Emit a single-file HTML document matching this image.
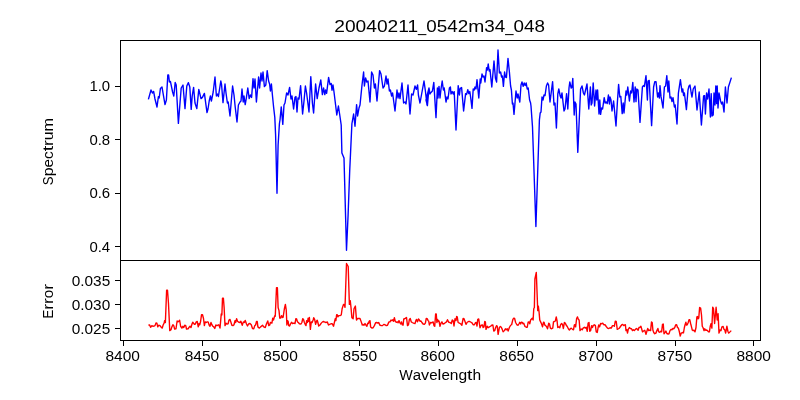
<!DOCTYPE html>
<html><head><meta charset="utf-8"><title>20040211_0542m34_048</title>
<style>html,body{margin:0;padding:0;background:#fff;}svg{display:block;}text{font-family:"Liberation Sans",sans-serif;fill:#000;}</style></head><body>
<svg width="800" height="400" viewBox="0 0 800 400" style="will-change:transform">
<rect x="0" y="0" width="800" height="400" fill="#fff"/>
<clipPath id="ct"><rect x="120.5" y="40.5" width="640" height="220"/></clipPath>
<clipPath id="cb"><rect x="120.5" y="260.5" width="640" height="80"/></clipPath>
<polyline clip-path="url(#ct)" fill="none" stroke="#0000ff" stroke-width="1.39" stroke-linejoin="round" stroke-linecap="butt" points="148.40,99.40 151.00,90.00 152.40,93.00 153.60,91.40 155.00,99.00 157.00,107.00 158.40,96.60 159.20,98.00 160.40,88.60 162.00,87.00 165.00,104.60 166.40,100.00 167.80,75.00 168.60,75.00 169.40,82.00 170.40,81.40 172.60,92.00 173.80,96.00 175.20,82.40 176.20,85.00 178.40,123.40 181.20,88.00 183.00,85.00 185.00,108.60 186.80,86.00 188.40,82.60 189.80,87.00 191.20,109.40 192.20,96.00 193.60,87.40 195.00,103.00 196.80,108.60 198.80,89.40 201.00,98.60 202.40,97.40 204.40,93.40 207.00,112.60 208.00,109.00 209.20,101.00 210.40,96.00 211.40,101.00 213.20,92.00 215.00,77.00 216.40,96.00 217.60,94.00 218.40,96.60 220.80,81.00 221.60,85.00 223.00,102.60 225.00,84.00 226.00,93.00 227.40,103.00 228.20,102.00 230.00,116.00 232.60,86.00 234.00,95.00 235.20,107.00 237.00,122.00 238.40,105.00 240.00,102.00 241.00,101.00 242.00,89.00 243.20,102.00 244.00,96.00 245.20,104.60 246.20,99.00 247.80,88.00 249.20,98.60 250.40,95.00 251.60,97.40 253.00,78.60 254.00,88.00 255.00,79.00 256.40,102.00 258.60,77.00 259.60,88.00 261.00,73.00 262.00,81.00 263.00,72.00 264.40,86.60 265.80,85.00 267.20,70.60 268.60,81.00 269.60,84.00 270.40,91.00 271.40,84.00 272.40,95.00 273.60,107.00 274.80,117.40 275.60,135.00 277.00,193.20 278.10,145.00 279.40,123.75 280.00,120.00 281.25,106.90 282.80,124.40 284.00,105.00 285.00,103.00 286.60,93.00 288.00,95.00 289.60,87.40 291.00,99.00 292.00,96.00 293.60,109.00 295.00,97.40 296.00,96.60 297.00,112.00 298.00,98.00 299.00,99.00 300.60,85.60 302.60,114.00 304.00,101.00 305.40,86.00 306.60,93.00 309.00,112.00 310.80,76.60 312.40,103.00 313.60,113.00 315.60,84.00 317.20,98.60 319.00,88.00 320.80,80.00 322.40,94.60 323.60,88.00 324.80,94.60 325.60,90.00 326.60,93.40 328.60,77.40 330.00,84.60 331.20,83.40 332.00,90.20 333.00,85.00 334.00,92.00 335.60,105.00 336.80,115.00 338.40,106.00 339.60,114.00 341.20,125.00 341.90,153.00 344.00,158.00 345.00,195.00 346.50,250.30 348.10,215.00 349.70,171.00 351.90,123.75 353.60,114.00 355.00,126.20 356.60,104.60 357.60,116.00 359.00,108.00 360.00,105.00 362.00,85.00 363.60,72.00 364.40,86.00 365.60,78.00 366.80,82.00 368.00,81.00 370.00,102.00 371.60,72.00 373.00,75.00 374.40,88.00 375.40,84.00 377.00,101.00 379.60,70.60 381.00,74.00 383.00,88.00 384.40,86.00 386.00,76.00 387.00,84.00 388.00,79.00 389.40,91.00 390.40,90.00 391.60,96.00 392.60,93.00 395.00,111.00 397.00,90.00 398.00,98.00 399.00,93.00 400.00,98.60 402.00,83.00 403.60,103.00 405.00,102.00 406.00,104.00 408.00,85.00 410.00,114.00 411.60,94.00 413.00,95.00 415.00,86.00 416.40,89.40 417.60,85.00 418.40,95.00 420.00,103.00 422.00,92.00 424.00,81.00 425.40,91.00 427.00,105.00 429.00,88.00 426.00,100.00 427.40,105.60 429.00,88.00 430.00,94.00 431.00,92.40 432.40,91.00 433.80,82.40 436.00,117.60 437.40,88.00 438.00,98.00 439.00,86.40 440.00,98.00 441.00,89.00 442.20,81.00 443.40,90.00 444.20,88.00 446.00,102.00 447.00,97.00 448.00,99.00 449.40,88.00 450.40,87.00 451.00,94.00 452.20,91.60 453.20,94.00 454.20,91.60 456.00,130.00 458.20,85.60 459.40,95.00 460.20,88.40 461.60,87.60 463.60,111.00 465.60,93.60 466.60,94.40 467.80,89.60 468.80,93.60 469.80,91.60 470.60,97.00 472.00,108.40 473.20,89.00 474.20,90.00 475.00,87.00 476.00,89.00 477.00,79.60 478.80,98.00 480.20,79.00 480.80,83.00 482.00,74.00 483.00,77.00 484.00,76.00 485.00,82.00 486.60,67.60 487.40,70.00 488.20,64.00 489.20,71.00 490.00,69.60 491.80,87.00 494.00,61.00 495.40,78.00 496.60,82.00 498.00,50.00 499.40,73.00 500.60,72.00 501.60,77.00 502.40,76.00 503.40,86.40 504.60,72.00 505.40,77.00 506.40,77.60 508.00,58.40 509.40,72.00 510.60,86.00 511.40,90.00 512.40,104.00 513.00,103.00 514.00,114.40 516.00,91.00 517.20,98.00 518.00,94.00 519.80,102.00 521.00,85.00 522.00,82.00 523.20,86.40 524.20,83.00 525.20,85.60 526.20,83.00 527.20,89.00 528.20,88.00 529.60,100.00 530.60,103.00 531.00,106.00 532.50,127.00 535.90,226.50 539.40,120.00 540.20,113.00 541.00,112.00 542.00,97.00 543.00,100.00 544.00,95.00 545.00,95.60 546.40,86.00 547.60,83.00 548.60,85.00 550.00,102.00 551.40,91.00 552.60,81.60 554.00,105.00 555.00,103.00 556.40,128.00 557.80,94.00 558.80,89.00 560.20,96.00 561.00,98.00 562.00,93.00 564.00,111.00 565.00,109.00 566.60,93.60 567.80,109.00 569.00,88.00 569.80,82.00 571.20,88.00 572.00,87.00 572.80,78.40 574.20,115.00 575.00,102.00 576.00,104.00 577.80,152.40 580.60,89.00 582.00,86.00 583.40,93.00 584.40,95.00 585.60,90.00 587.00,84.00 588.80,109.00 590.40,87.00 591.20,105.00 592.00,103.00 593.20,83.00 594.60,106.00 596.00,90.00 596.80,100.00 597.60,90.00 599.00,114.00 599.80,100.00 600.60,114.40 601.60,108.00 602.60,109.00 604.20,97.60 605.20,103.00 606.20,102.00 607.20,103.60 608.40,95.00 609.40,104.00 610.00,97.00 611.00,100.00 612.00,111.00 613.60,101.00 616.00,126.00 617.40,102.00 618.60,84.40 619.80,97.00 620.80,96.40 622.20,113.60 623.20,103.00 624.00,113.00 626.00,91.00 626.80,95.00 627.80,87.00 629.40,101.00 630.60,91.00 631.60,93.00 632.80,82.40 634.00,102.00 635.20,87.00 636.00,101.60 636.80,89.00 638.00,90.00 640.00,122.40 642.40,87.00 643.40,85.60 644.40,86.40 646.00,75.60 647.40,100.00 648.00,81.00 649.20,80.40 651.60,125.60 653.60,87.00 654.80,81.60 656.00,81.60 657.60,97.00 658.40,93.00 659.40,98.00 660.00,85.60 661.00,96.40 663.00,108.00 664.40,87.00 665.60,86.00 666.80,75.60 668.00,92.00 668.80,81.00 670.00,98.00 671.00,97.00 672.00,101.60 673.00,97.60 674.40,107.00 675.20,105.00 677.00,124.00 678.40,93.00 680.40,79.60 682.00,92.00 682.80,89.00 683.60,95.60 684.40,93.00 686.40,109.60 688.00,90.00 689.00,86.00 690.00,85.00 691.20,93.00 692.00,97.00 693.20,89.00 695.00,86.00 697.00,110.00 699.20,92.00 701.40,125.00 703.60,96.00 704.60,95.60 705.40,114.00 706.60,93.00 707.60,99.00 709.00,89.00 710.40,117.00 711.20,93.60 712.00,116.00 713.20,115.00 714.00,93.00 715.00,105.00 715.80,86.00 716.60,103.60 717.20,86.00 718.00,108.00 719.00,93.00 720.60,101.00 721.60,104.00 722.60,102.00 724.00,112.00 725.40,87.00 727.00,103.00 728.40,87.00 731.40,77.60"/>
<polyline clip-path="url(#cb)" fill="none" stroke="#ff0000" stroke-width="1.39" stroke-linejoin="round" stroke-linecap="butt" points="148.50,324.75 149.75,325.25 150.62,327.25 151.88,325.62 152.88,326.25 154.00,326.00 155.00,325.62 156.00,322.88 156.88,323.12 157.75,326.88 158.75,325.25 160.00,325.62 161.25,327.25 162.25,328.12 163.12,325.00 164.12,323.12 164.62,320.62 165.38,322.50 166.62,290.25 167.50,290.25 168.50,303.75 169.75,330.62 171.00,329.75 171.88,326.88 172.88,324.75 173.75,325.62 174.62,329.00 176.00,328.75 177.12,321.00 178.12,321.88 178.75,321.25 179.62,320.25 180.62,326.25 181.88,328.12 182.88,326.25 183.75,327.50 184.75,325.25 185.75,325.62 186.50,329.00 188.12,328.75 189.38,326.88 190.00,326.25 191.00,327.50 191.88,324.38 192.75,322.25 193.50,323.12 194.38,324.38 195.38,324.00 196.25,321.88 197.25,321.50 198.25,326.88 199.00,323.75 199.75,324.75 200.62,321.25 201.50,314.75 202.50,314.75 203.50,318.50 204.38,325.62 205.25,321.88 206.25,322.50 207.12,321.88 208.12,321.88 209.12,325.00 210.00,326.25 211.00,322.50 211.88,324.75 212.88,326.25 213.75,326.88 214.75,328.50 215.88,325.00 216.88,325.62 217.75,325.25 218.75,324.75 220.00,328.12 221.25,314.00 221.88,315.00 222.50,298.12 223.38,298.12 224.12,307.50 225.00,325.62 226.00,323.12 226.88,324.00 228.12,323.75 229.00,320.00 230.00,319.38 231.00,322.50 231.88,325.25 233.12,325.62 234.00,324.75 235.00,320.62 235.62,322.50 236.62,318.75 237.50,321.25 238.75,322.25 240.00,322.50 240.88,321.25 242.25,325.25 243.38,321.88 244.38,322.50 245.25,320.38 246.50,324.00 247.50,326.00 248.75,323.75 250.00,323.50 251.25,324.75 252.50,328.50 253.75,328.75 254.75,325.62 255.62,325.00 256.50,321.50 257.25,321.50 257.88,326.88 259.38,328.12 260.62,326.88 261.62,326.00 262.50,325.25 263.75,326.88 265.25,327.50 266.50,323.75 267.75,321.00 268.75,325.62 269.75,325.00 270.38,322.50 271.88,323.12 272.75,318.12 273.50,320.00 274.75,315.62 275.25,316.25 276.50,287.75 277.38,287.75 278.12,307.50 279.00,310.62 279.75,318.12 280.62,318.12 281.62,315.62 282.50,317.50 283.12,317.25 284.38,308.75 285.38,304.38 286.25,310.00 286.88,325.00 287.50,320.62 288.12,321.25 288.75,325.62 289.62,326.00 290.62,323.75 291.50,322.25 292.50,323.50 293.75,323.12 295.00,323.50 295.88,318.75 296.62,319.00 297.50,321.88 298.38,322.50 299.38,323.75 301.00,324.00 301.88,322.50 302.75,318.75 303.50,319.38 304.38,322.50 305.38,324.75 306.00,325.62 306.62,320.62 307.50,322.50 308.12,318.12 308.75,321.25 309.38,317.50 310.38,329.38 311.25,321.88 312.12,322.50 313.12,320.00 313.75,317.75 314.62,319.38 315.62,324.38 316.50,321.25 317.25,320.25 317.88,322.50 318.75,326.00 320.00,325.00 321.25,323.12 322.50,321.88 323.75,321.50 325.00,322.25 326.25,322.50 327.25,321.88 328.50,325.00 329.75,324.38 331.00,323.75 332.25,323.75 333.50,326.25 335.25,318.75 335.88,320.62 336.62,314.75 337.25,314.75 337.88,316.88 338.75,315.62 340.00,315.62 341.25,315.00 342.12,308.75 343.50,304.38 344.38,304.75 345.00,307.25 346.50,263.50 348.20,266.50 349.38,304.38 350.25,300.62 351.00,307.50 351.88,317.75 353.12,318.75 354.00,308.75 355.38,306.00 356.50,320.00 357.50,318.50 360.00,318.50 361.25,321.88 362.25,325.00 363.12,324.38 364.00,325.25 365.00,323.50 366.00,325.25 366.88,326.25 367.75,323.12 368.50,323.50 369.12,321.25 370.00,320.62 370.62,326.88 371.88,328.12 373.12,327.75 374.38,325.62 375.62,322.75 376.88,322.50 377.75,323.12 378.75,322.50 379.75,325.00 381.25,325.62 382.50,325.62 383.75,324.38 385.00,324.75 386.25,325.62 387.50,325.25 388.38,323.12 389.00,321.88 390.00,321.88 391.00,320.00 391.88,320.62 392.88,319.75 393.50,321.25 394.38,317.75 395.25,321.25 396.25,322.25 397.50,321.88 398.12,322.75 399.00,320.62 399.75,322.50 400.62,324.00 401.50,321.88 402.25,324.75 403.12,325.00 403.75,319.00 404.75,318.75 405.62,318.12 406.50,317.50 407.50,325.62 408.50,324.75 409.38,319.38 410.25,318.50 411.25,321.88 412.25,322.50 413.50,323.12 415.00,323.50 416.00,320.25 416.62,319.38 417.50,321.88 418.50,319.00 419.38,320.00 420.00,321.25 421.00,321.00 421.88,322.50 423.12,324.00 424.38,324.38 425.38,323.12 426.25,318.50 427.25,318.75 428.12,320.62 428.75,321.25 429.38,325.00 430.62,322.50 431.88,322.75 433.12,321.88 434.00,325.62 434.75,326.25 435.62,314.00 436.25,314.00 436.88,322.50 437.50,319.38 438.25,321.25 439.00,321.00 440.00,326.25 441.00,323.12 441.88,321.88 442.88,324.00 444.00,323.75 445.25,322.75 446.50,321.88 447.50,319.75 448.75,322.25 450.00,322.50 451.25,323.50 452.25,320.00 453.12,320.62 454.00,326.00 455.00,318.75 456.00,320.62 456.62,316.50 457.25,316.88 458.12,322.50 459.38,323.12 460.62,323.75 461.88,325.25 463.12,318.50 464.00,318.75 465.00,321.50 466.00,324.38 467.25,322.25 468.50,321.50 469.75,321.50 471.00,322.25 472.25,323.12 473.12,324.75 474.38,324.75 475.38,322.75 476.25,322.50 477.00,326.00 477.75,319.38 478.75,319.00 480.00,327.75 481.25,325.25 482.50,325.00 483.12,327.50 484.00,326.88 484.75,321.50 485.38,321.88 486.00,329.38 487.25,326.25 488.12,327.75 489.38,326.88 490.62,326.25 491.62,325.25 492.88,325.00 493.75,331.00 494.75,330.62 495.62,327.50 496.62,325.62 497.25,326.25 498.12,334.38 499.38,327.50 500.38,326.50 501.25,327.25 502.25,329.38 503.12,331.88 504.38,330.62 505.38,328.75 506.25,329.75 507.25,328.75 508.12,331.00 509.38,327.50 510.62,325.25 511.62,324.75 512.88,319.38 513.75,318.12 514.62,318.50 515.62,322.50 516.88,324.75 518.12,325.25 519.00,323.75 519.75,322.25 520.62,324.00 521.25,322.25 522.25,322.50 523.12,323.75 523.75,323.12 524.62,325.62 525.00,326.50 526.25,327.25 527.25,327.25 528.12,322.25 529.00,321.88 529.75,323.75 530.62,320.00 531.50,319.00 532.25,318.12 533.12,320.00 533.75,308.75 534.38,307.50 534.90,279.00 536.30,272.50 537.75,310.62 538.38,306.25 539.00,311.25 539.75,320.00 540.62,321.88 541.50,323.75 542.50,326.88 543.50,322.25 544.12,322.50 544.75,325.00 545.62,325.62 546.50,326.50 547.50,328.75 548.75,323.12 549.50,324.00 550.38,328.12 551.25,328.75 552.75,328.12 553.50,321.88 554.38,321.50 555.38,321.00 556.25,316.88 557.12,321.25 557.75,327.50 558.75,326.88 559.75,327.75 560.62,324.75 561.62,323.50 562.50,324.38 563.38,328.50 564.38,322.50 565.25,323.12 566.25,325.25 567.25,326.50 568.50,329.00 569.38,330.00 570.38,328.75 571.25,328.12 572.50,329.38 573.50,329.75 574.38,325.00 575.00,324.75 575.62,326.88 576.62,318.50 577.50,316.88 578.38,319.38 579.12,320.00 580.00,330.62 581.25,329.00 582.25,329.75 583.12,328.12 584.38,327.25 585.25,328.12 586.25,327.25 587.25,331.25 588.12,323.12 589.00,322.50 589.75,331.25 590.62,330.62 591.62,325.62 592.50,327.50 593.38,325.25 594.38,324.75 595.38,325.62 596.25,331.88 597.25,332.50 598.12,327.50 598.75,325.00 599.62,326.88 600.62,323.50 601.88,323.75 602.75,323.12 603.75,324.75 605.00,324.75 606.25,326.50 607.50,328.12 608.75,328.50 610.00,327.75 611.25,328.12 612.50,325.62 613.50,325.62 614.38,326.25 615.25,321.25 616.25,321.50 617.25,329.38 618.50,328.75 619.38,328.12 620.62,326.25 621.88,324.75 622.75,324.38 623.75,325.62 624.62,325.00 625.38,324.75 626.00,330.62 626.88,329.75 627.50,333.12 628.25,329.38 629.38,327.50 630.38,328.50 631.50,328.75 632.50,330.62 633.50,329.75 634.38,330.62 635.38,329.38 636.50,328.50 637.50,329.38 638.12,330.25 639.00,327.50 640.00,327.25 640.88,326.25 641.62,328.75 642.50,331.88 643.50,331.00 644.75,330.25 646.00,334.38 646.88,331.25 647.75,328.50 648.75,330.62 649.75,330.00 650.62,330.62 651.50,321.88 652.25,322.75 652.88,330.00 653.75,332.50 654.75,333.75 655.88,333.12 656.88,330.62 657.88,328.50 658.75,331.88 659.75,332.25 660.75,331.25 661.62,331.88 662.50,324.38 663.25,324.00 664.00,333.75 665.00,332.50 665.88,331.00 666.88,333.50 668.12,334.00 669.00,333.75 670.00,330.62 671.00,329.38 671.88,329.75 672.88,328.50 673.75,328.75 674.75,327.50 675.62,325.00 676.62,324.75 677.50,327.50 678.38,328.12 679.25,331.25 680.25,336.00 681.25,333.12 682.50,332.50 683.50,332.75 684.38,327.50 685.00,325.00 685.88,322.25 686.50,325.00 687.25,324.75 688.12,322.75 689.00,319.75 689.75,319.75 690.62,323.50 691.50,326.88 692.25,330.00 693.12,330.62 694.00,330.25 695.00,331.88 696.00,327.50 696.88,316.88 697.50,316.50 698.12,318.75 698.75,318.12 699.62,307.50 700.62,308.12 701.50,315.00 702.25,326.25 703.12,327.75 704.00,330.62 704.75,328.75 705.62,330.25 706.62,330.00 707.50,330.62 708.50,331.88 709.38,331.88 710.25,326.25 711.00,323.75 711.88,328.12 712.70,307.20 713.50,308.50 714.60,323.50 716.10,307.20 717.20,320.00 718.10,313.80 719.00,333.12 720.00,330.00 721.00,330.62 721.88,326.88 723.12,326.50 724.00,329.38 724.75,329.75 725.62,333.12 726.88,326.25 727.88,331.25 728.75,333.12 730.00,331.88 731.25,330.62"/>
<g fill="none" stroke="#000" stroke-width="1" shape-rendering="crispEdges">
<rect x="120.5" y="40.5" width="640" height="220"/>
<rect x="120.5" y="260.5" width="640" height="80"/>
<line x1="123.5" y1="341" x2="123.5" y2="345.6"/>
<line x1="202.5" y1="341" x2="202.5" y2="345.6"/>
<line x1="280.5" y1="341" x2="280.5" y2="345.6"/>
<line x1="359.5" y1="341" x2="359.5" y2="345.6"/>
<line x1="438.5" y1="341" x2="438.5" y2="345.6"/>
<line x1="517.5" y1="341" x2="517.5" y2="345.6"/>
<line x1="596.5" y1="341" x2="596.5" y2="345.6"/>
<line x1="675.5" y1="341" x2="675.5" y2="345.6"/>
<line x1="753.5" y1="341" x2="753.5" y2="345.6"/>
<line x1="115.4" y1="86.5" x2="120" y2="86.5"/>
<line x1="115.4" y1="139.5" x2="120" y2="139.5"/>
<line x1="115.4" y1="193.5" x2="120" y2="193.5"/>
<line x1="115.4" y1="246.5" x2="120" y2="246.5"/>
<line x1="115.4" y1="280.5" x2="120" y2="280.5"/>
<line x1="115.4" y1="304.5" x2="120" y2="304.5"/>
<line x1="115.4" y1="328.5" x2="120" y2="328.5"/>
</g>
<text x="105.47" y="361.00" font-size="14" textLength="34.46" lengthAdjust="spacingAndGlyphs">8400</text>
<text x="184.72" y="361.00" font-size="14" textLength="34.46" lengthAdjust="spacingAndGlyphs">8450</text>
<text x="263.32" y="361.00" font-size="14" textLength="34.46" lengthAdjust="spacingAndGlyphs">8500</text>
<text x="342.57" y="361.00" font-size="14" textLength="34.46" lengthAdjust="spacingAndGlyphs">8550</text>
<text x="420.47" y="361.00" font-size="14" textLength="34.46" lengthAdjust="spacingAndGlyphs">8600</text>
<text x="499.37" y="361.00" font-size="14" textLength="34.46" lengthAdjust="spacingAndGlyphs">8650</text>
<text x="578.47" y="361.00" font-size="14" textLength="34.46" lengthAdjust="spacingAndGlyphs">8700</text>
<text x="657.57" y="361.00" font-size="14" textLength="34.46" lengthAdjust="spacingAndGlyphs">8750</text>
<text x="736.47" y="361.00" font-size="14" textLength="34.46" lengthAdjust="spacingAndGlyphs">8800</text>
<text x="89.41" y="91.30" font-size="14" textLength="20.79" lengthAdjust="spacingAndGlyphs">1.0</text>
<text x="89.41" y="145.30" font-size="14" textLength="20.79" lengthAdjust="spacingAndGlyphs">0.8</text>
<text x="89.41" y="198.30" font-size="14" textLength="20.79" lengthAdjust="spacingAndGlyphs">0.6</text>
<text x="89.41" y="252.30" font-size="14" textLength="20.79" lengthAdjust="spacingAndGlyphs">0.4</text>
<text x="71.73" y="286.30" font-size="14" textLength="38.47" lengthAdjust="spacingAndGlyphs">0.035</text>
<text x="71.73" y="310.30" font-size="14" textLength="38.47" lengthAdjust="spacingAndGlyphs">0.030</text>
<text x="71.73" y="334.30" font-size="14" textLength="38.47" lengthAdjust="spacingAndGlyphs">0.025</text>
<text x="334.29" y="32.00" font-size="17" textLength="83.81" lengthAdjust="spacingAndGlyphs">20040211</text><text x="418.11" y="32.00" font-size="17" textLength="8.23" lengthAdjust="spacingAndGlyphs">_</text><text x="426.34" y="32.00" font-size="17" textLength="41.91" lengthAdjust="spacingAndGlyphs">0542</text><text x="468.25" y="32.00" font-size="17" textLength="16.04" lengthAdjust="spacingAndGlyphs">m</text><text x="484.29" y="32.00" font-size="17" textLength="20.95" lengthAdjust="spacingAndGlyphs">34</text><text x="505.24" y="32.00" font-size="17" textLength="8.23" lengthAdjust="spacingAndGlyphs">_</text><text x="513.48" y="32.00" font-size="17" textLength="31.43" lengthAdjust="spacingAndGlyphs">048</text>
<text x="399.27" y="379.80" font-size="14" textLength="13.50" lengthAdjust="spacingAndGlyphs">W</text><text x="412.77" y="379.80" font-size="14" textLength="8.37" lengthAdjust="spacingAndGlyphs">a</text><text x="421.13" y="379.80" font-size="14" textLength="8.08" lengthAdjust="spacingAndGlyphs">v</text><text x="429.21" y="379.80" font-size="14" textLength="8.40" lengthAdjust="spacingAndGlyphs">e</text><text x="437.61" y="379.80" font-size="14" textLength="3.79" lengthAdjust="spacingAndGlyphs">l</text><text x="441.41" y="379.80" font-size="14" textLength="8.40" lengthAdjust="spacingAndGlyphs">e</text><text x="449.81" y="379.80" font-size="14" textLength="8.65" lengthAdjust="spacingAndGlyphs">n</text><text x="458.46" y="379.80" font-size="14" textLength="8.67" lengthAdjust="spacingAndGlyphs">g</text><text x="467.13" y="379.80" font-size="14" textLength="5.35" lengthAdjust="spacingAndGlyphs">t</text><text x="472.48" y="379.80" font-size="14" textLength="8.65" lengthAdjust="spacingAndGlyphs">h</text>
<g transform="translate(53.3,151.5) rotate(-90)"><text x="-33.65" y="0.00" font-size="14" textLength="8.82" lengthAdjust="spacingAndGlyphs">S</text><text x="-24.83" y="0.00" font-size="14" textLength="8.82" lengthAdjust="spacingAndGlyphs">p</text><text x="-16.02" y="0.00" font-size="14" textLength="8.54" lengthAdjust="spacingAndGlyphs">e</text><text x="-7.47" y="0.00" font-size="14" textLength="7.64" lengthAdjust="spacingAndGlyphs">c</text><text x="0.16" y="0.00" font-size="14" textLength="5.45" lengthAdjust="spacingAndGlyphs">t</text><text x="5.61" y="0.00" font-size="14" textLength="5.71" lengthAdjust="spacingAndGlyphs">r</text><text x="11.32" y="0.00" font-size="14" textLength="8.80" lengthAdjust="spacingAndGlyphs">u</text><text x="20.12" y="0.00" font-size="14" textLength="13.53" lengthAdjust="spacingAndGlyphs">m</text></g>
<g transform="translate(53.3,301.3) rotate(-90)"><text x="-17.20" y="0.00" font-size="14" textLength="8.78" lengthAdjust="spacingAndGlyphs">E</text><text x="-8.43" y="0.00" font-size="14" textLength="5.71" lengthAdjust="spacingAndGlyphs">r</text><text x="-2.72" y="0.00" font-size="14" textLength="5.71" lengthAdjust="spacingAndGlyphs">r</text><text x="2.99" y="0.00" font-size="14" textLength="8.50" lengthAdjust="spacingAndGlyphs">o</text><text x="11.49" y="0.00" font-size="14" textLength="5.71" lengthAdjust="spacingAndGlyphs">r</text></g>
</svg></body></html>
